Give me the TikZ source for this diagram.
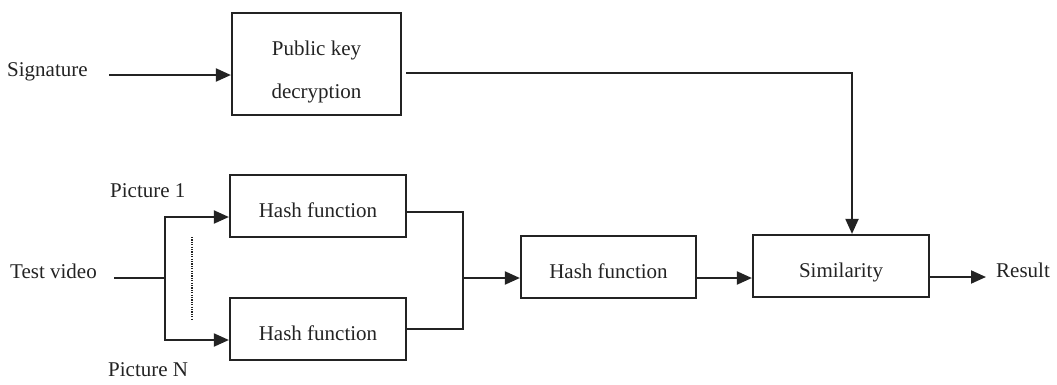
\documentclass[tikz,border=0pt]{standalone}
\usepackage{fontspec}
\setmainfont{Liberation Serif}
\usetikzlibrary{arrows.meta}
\definecolor{ink}{RGB}{35,35,35}
\begin{document}
\begin{tikzpicture}[x=1pt,y=-1pt,
  every node/.style={font=\fontsize{21pt}{25pt}\selectfont, text=ink},
  block/.style={draw=ink, line width=2.2pt, inner xsep=0pt, inner ysep=0pt,
    anchor=base, text height=42pt, text depth=20pt, minimum width=176pt},
  tag/.style={anchor=base west, inner sep=0pt},
  wire/.style={draw=ink, line width=2pt},
  arr/.style={wire, -{Triangle[length=15pt,width=13pt]}},
]
\useasboundingbox (0,0) rectangle (1057,384);

% processing blocks (placed by their text baseline)
\node[block, minimum width=169pt, text depth=60pt] (pkd) at (316.5,55)
  {\vtop{\baselineskip=43pt
     \hbox to 169pt{\hfil Public key\hfil}
     \hbox to 169pt{\hfil decryption\hfil}}};
\node[block] (h1) at (318,217) {Hash function};
\node[block] (h2) at (318,340) {Hash function};
\node[block, minimum width=175pt] (h3) at (608.5,278) {Hash function};
\node[block] (sim) at (841,277) {Similarity};

% free-standing labels
\node[tag] (sig) at (7,76) {Signature};
\node[tag] (tv) at (10,278) {Test video};
\node[tag] (p1) at (110,197) {Picture 1};
\node[tag] (pn) at (108,376) {Picture N};
\node[tag] (res) at (996,277) {Result};

% signature path
\coordinate (sigA) at (109,75);
\draw[arr] (sigA) -- (sigA -| pkd.west);
\coordinate (turn) at (852,73);
\draw[arr, shorten <=4pt] (pkd.east |- turn) -- (turn) -- (turn |- sim.north);

% video frames fan out to the hash blocks
\coordinate (tvA) at (114,278);
\coordinate (split) at (165,278);
\draw[wire] (tvA) -- (split);
\draw[arr] (split) |- (h1.base west);
\draw[arr] (split) |- (h2.base west);
\coordinate (dotA) at (192,237);
\coordinate (dotB) at (192,320);
\draw[ink, line width=1.5pt, dash pattern=on 1.2pt off 1.2pt] (dotA) -- (dotB);

% merge of the frame hashes
\coordinate (m1) at (463,212);
\draw[wire] (h1.east |- m1) -- (m1) |- (h2.east);
\draw[arr] (m1 |- h3.base west) -- (h3.base west);
\draw[arr] (h3.base east) -- (h3.base east -| sim.west);
\draw[arr] (sim.base east) -- ([xshift=-10pt]res.base west);
\end{tikzpicture}
\end{document}
